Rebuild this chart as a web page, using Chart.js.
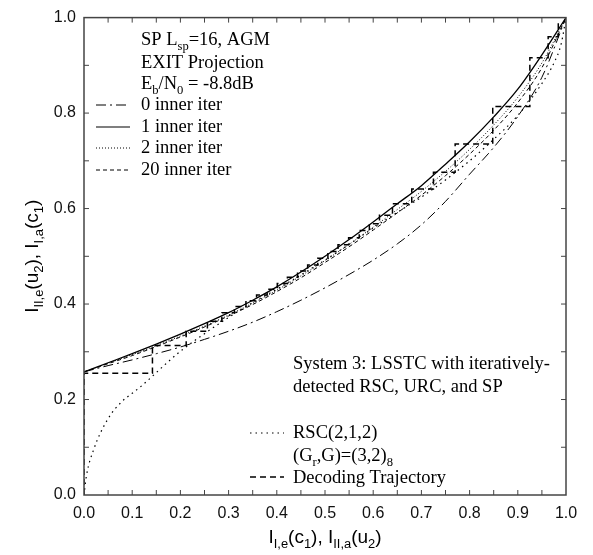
<!DOCTYPE html>
<html lang="en">
<head>
    <meta charset="UTF-8">
    <title>EXIT chart</title>
    <style>
        body { margin: 0; background: #fff; }
        #chart { display: block; }
    </style>
    <script src="https://cdn.jsdelivr.net/npm/chart.js"></script>
</head>
<body>
    <canvas id="chart" width="593" height="555"></canvas>
    <script>
        // common x grid for the inner EXIT curves
        const xGrid = [0, 0.05, 0.1, 0.15, 0.2, 0.25, 0.3, 0.35, 0.4, 0.45, 0.5,
                       0.55, 0.6, 0.65, 0.7, 0.75, 0.8, 0.85, 0.9, 0.95, 1.0];
        const iter0Y  = [0.258, 0.271, 0.283, 0.296, 0.310, 0.326, 0.343, 0.362, 0.384, 0.408, 0.434,
                         0.462, 0.492, 0.526, 0.566, 0.615, 0.672, 0.728, 0.793, 0.875, 1.0];
        const iter1Y  = [0.258, 0.277, 0.296, 0.316, 0.337, 0.359, 0.382, 0.408, 0.436, 0.467, 0.500,
                         0.535, 0.572, 0.610, 0.648, 0.693, 0.740, 0.792, 0.850, 0.922, 1.0];
        const iter2Y  = [0.258, 0.276, 0.294, 0.313, 0.333, 0.354, 0.377, 0.402, 0.429, 0.459, 0.491,
                         0.525, 0.561, 0.598, 0.636, 0.678, 0.724, 0.775, 0.833, 0.905, 1.0];
        const iter20Y = [0.258, 0.275, 0.292, 0.311, 0.331, 0.352, 0.375, 0.399, 0.426, 0.455, 0.487,
                         0.520, 0.555, 0.591, 0.628, 0.669, 0.714, 0.764, 0.822, 0.895, 1.0];

        // outer RSC(2,1,2) curve (inverted)
        const rscX = [0, 0.005, 0.02, 0.05, 0.08, 0.1, 0.12, 0.14, 0.17, 0.2, 0.25, 0.3, 0.35, 0.4,
                      0.45, 0.5, 0.55, 0.6, 0.65, 0.7, 0.75, 0.8, 0.85, 0.9, 0.95, 0.975, 0.99, 1.0];
        const rscY = [0, 0.04, 0.095, 0.16, 0.197, 0.213, 0.229, 0.247, 0.275, 0.301, 0.338, 0.372, 0.403, 0.431,
                      0.461, 0.492, 0.525, 0.559, 0.592, 0.624, 0.66, 0.700, 0.745, 0.795, 0.862, 0.905, 0.945, 1.0];

        // decoding trajectory: x of each vertical step and the y it reaches
        const trajX = [0, 0.142, 0.212, 0.256, 0.286, 0.312, 0.336, 0.358, 0.380, 0.401, 0.422, 0.443, 0.464, 0.485,
                       0.506, 0.527, 0.549, 0.571, 0.592, 0.613, 0.640, 0.680, 0.725, 0.770, 0.848, 0.925, 0.963, 0.984];
        const trajY = [0.255, 0.313, 0.343, 0.364, 0.382, 0.395, 0.407, 0.419, 0.431, 0.443, 0.456, 0.469, 0.482, 0.496,
                       0.510, 0.524, 0.539, 0.554, 0.568, 0.586, 0.610, 0.641, 0.676, 0.735, 0.814, 0.916, 0.960, 0.990];

        // tick labels and tick marks
        const xLabels = [0, 0.1, 0.2, 0.3, 0.4, 0.5, 0.6, 0.7, 0.8, 0.9, 1.0];
        const yLabels = [0, 0.2, 0.4, 0.6, 0.8, 1.0];
        const xMarks = [0.05, 0.1, 0.15, 0.2, 0.25, 0.3, 0.35, 0.4, 0.45, 0.5, 0.55, 0.6, 0.65, 0.7, 0.75, 0.8, 0.85, 0.9, 0.95];
        const yMarks = [0.1, 0.2, 0.3, 0.4, 0.5, 0.6, 0.7, 0.8, 0.9];

        const SERIF = '"Liberation Serif", "Times New Roman", serif';
        const SANS = '"Liberation Sans", Arial, sans-serif';

        function pts(xs, ys) {
            return xs.map((x, i) => ({ x: x, y: ys[i] }));
        }

        function stairs(xs, ys) {
            const out = [{ x: xs[0], y: 0 }, { x: xs[0], y: ys[0] }];
            for (let k = 1; k < xs.length; k++) {
                out.push({ x: xs[k], y: ys[k - 1] });
                out.push({ x: xs[k], y: ys[k] });
            }
            return out;
        }

        // text with _{...} subscripts
        function drawRich(ctx, str, x, y, size, family, align) {
            const parts = [];
            str.split(/(_\{[^}]*\})/).forEach(s => {
                if (!s) return;
                if (s.startsWith('_{')) parts.push({ t: s.slice(2, -1), sub: true });
                else parts.push({ t: s, sub: false });
            });
            const sub = size * 0.68;
            let w = 0;
            parts.forEach(p => {
                ctx.font = (p.sub ? sub : size) + 'px ' + family;
                p.w = ctx.measureText(p.t).width;
                w += p.w;
            });
            let cx = align === 'center' ? x - w / 2 : x;
            ctx.textAlign = 'left';
            ctx.textBaseline = 'alphabetic';
            parts.forEach(p => {
                ctx.font = (p.sub ? sub : size) + 'px ' + family;
                ctx.fillText(p.t, cx, y + (p.sub ? size * 0.28 : 0));
                cx += p.w;
            });
        }

        function sample(ctx, x1, x2, y, dash, width) {
            ctx.save();
            ctx.strokeStyle = '#000';
            ctx.lineWidth = width;
            ctx.setLineDash(dash);
            ctx.beginPath();
            ctx.moveTo(x1, y);
            ctx.lineTo(x2, y);
            ctx.stroke();
            ctx.restore();
        }

        const decorations = {
            id: 'decorations',
            afterDraw(chart) {
                const ctx = chart.ctx;
                const a = chart.chartArea;
                const sx = chart.scales.x, sy = chart.scales.y;
                ctx.save();

                // frame
                ctx.strokeStyle = '#444';
                ctx.lineWidth = 1.5;
                ctx.strokeRect(a.left, a.top, a.right - a.left, a.bottom - a.top);

                // inward ticks on all sides
                ctx.lineWidth = 1;
                ctx.beginPath();
                xMarks.forEach(v => {
                    const px = sx.getPixelForValue(v);
                    ctx.moveTo(px, a.bottom); ctx.lineTo(px, a.bottom - 5);
                    ctx.moveTo(px, a.top); ctx.lineTo(px, a.top + 5);
                });
                yMarks.forEach(v => {
                    const py = sy.getPixelForValue(v);
                    ctx.moveTo(a.left, py); ctx.lineTo(a.left + 5, py);
                    ctx.moveTo(a.right, py); ctx.lineTo(a.right - 5, py);
                });
                ctx.stroke();

                ctx.fillStyle = '#000';
                // axis titles
                drawRich(ctx, 'I_{I,e}(c_{1}), I_{II,a}(u_{2})', (a.left + a.right) / 2, 543, 19, SANS, 'center');
                ctx.save();
                ctx.translate(38, (a.top + a.bottom) / 2);
                ctx.rotate(-Math.PI / 2);
                drawRich(ctx, 'I_{II,e}(u_{2}), I_{I,a}(c_{1})', 0, 0, 19, SANS, 'center');
                ctx.restore();

                // top-left legend
                const fs = 18.5;
                drawRich(ctx, 'SP L_{sp}=16, AGM', 141, 45, fs, SERIF, 'left');
                drawRich(ctx, 'EXIT Projection', 141, 68, fs, SERIF, 'left');
                drawRich(ctx, 'E_{b}/N_{0} = -8.8dB', 141, 89, fs, SERIF, 'left');
                drawRich(ctx, '0 inner iter', 141, 110, fs, SERIF, 'left');
                drawRich(ctx, '1 inner iter', 141, 132, fs, SERIF, 'left');
                drawRich(ctx, '2 inner iter', 141, 153, fs, SERIF, 'left');
                drawRich(ctx, '20 inner iter', 141, 175, fs, SERIF, 'left');
                sample(ctx, 96, 130, 105, [10, 4, 2, 4], 1);
                sample(ctx, 96, 130, 127, [], 1.2);
                sample(ctx, 96, 130, 148, [1, 2], 1);
                sample(ctx, 96, 130, 170, [4, 3], 1);

                // bottom-right legend
                drawRich(ctx, 'System 3: LSSTC with iteratively-', 293, 369, fs, SERIF, 'left');
                drawRich(ctx, 'detected RSC, URC, and SP', 293, 392, fs, SERIF, 'left');
                drawRich(ctx, 'RSC(2,1,2)', 293, 438, fs, SERIF, 'left');
                drawRich(ctx, '(G_{r},G)=(3,2)_{8}', 293, 461, fs, SERIF, 'left');
                drawRich(ctx, 'Decoding Trajectory', 293, 483, fs, SERIF, 'left');
                sample(ctx, 250, 284, 433, [1.5, 4], 1.2);
                sample(ctx, 250, 284, 477, [6, 4], 1.5);

                ctx.restore();
            }
        };

        const tickFont = { family: SANS, size: 16 };

        new Chart(document.getElementById('chart'), {
            type: 'scatter',
            data: {
                datasets: [
                    { data: pts(xGrid, iter0Y), borderDash: [10, 4, 2, 4], borderWidth: 1 },
                    { data: pts(xGrid, iter1Y), borderWidth: 1.3 },
                    { data: pts(xGrid, iter2Y), borderDash: [1, 2], borderWidth: 1 },
                    { data: pts(xGrid, iter20Y), borderDash: [4, 3], borderWidth: 1 },
                    { data: pts(rscX, rscY), borderDash: [1.5, 4], borderWidth: 1.2 },
                    { data: stairs(trajX, trajY), borderDash: [6, 4], borderWidth: 1.5, cubicInterpolationMode: 'default', tension: 0 }
                ].map(d => Object.assign({
                    showLine: true,
                    pointRadius: 0,
                    borderColor: '#000',
                    backgroundColor: '#000',
                    fill: false,
                    cubicInterpolationMode: 'monotone'
                }, d))
            },
            options: {
                responsive: false,
                animation: false,
                devicePixelRatio: 1,
                layout: { padding: { top: 14, right: 27, left: 0, bottom: 0 } },
                plugins: { legend: { display: false }, tooltip: { enabled: false } },
                scales: {
                    x: {
                        type: 'linear', min: 0, max: 1,
                        afterBuildTicks: s => { s.ticks = xLabels.map(v => ({ value: v })); },
                        afterFit: s => { s.height = 60; },
                        grid: { display: false, drawTicks: false },
                        border: { display: false },
                        ticks: {
                            font: tickFont, color: '#111', padding: 9,
                            maxRotation: 0, autoSkip: false,
                            callback: v => v.toFixed(1)
                        }
                    },
                    y: {
                        type: 'linear', min: 0, max: 1,
                        afterBuildTicks: s => { s.ticks = yLabels.map(v => ({ value: v })); },
                        afterFit: s => { s.width = 84; },
                        grid: { display: false, drawTicks: false },
                        border: { display: false },
                        ticks: {
                            font: tickFont, color: '#111', padding: 8,
                            autoSkip: false,
                            callback: v => v.toFixed(1)
                        }
                    }
                }
            },
            plugins: [decorations]
        });
    </script>
</body>
</html>
